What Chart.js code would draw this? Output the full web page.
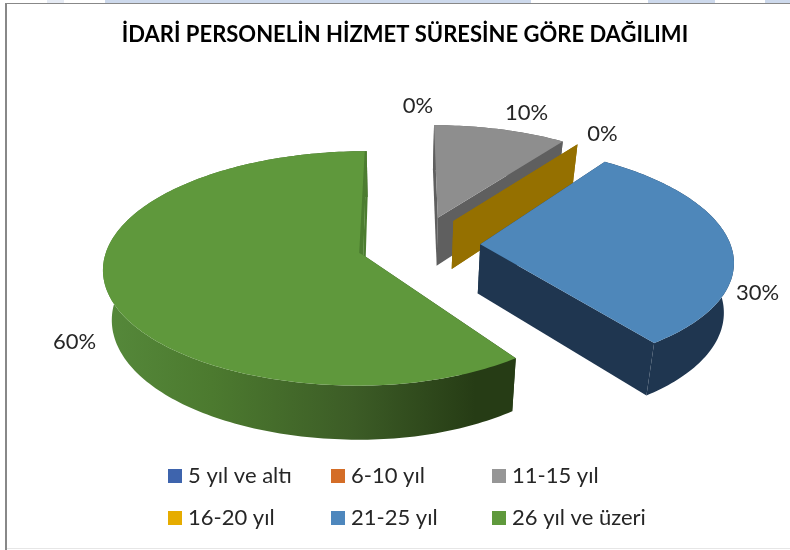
<!DOCTYPE html>
<html>
<head>
<meta charset="utf-8">
<script src="https://cdn.jsdelivr.net/npm/chart.js@4"></script>
<style>
    html, body { margin: 0; padding: 0; background: #fff; }
    #wrap { position: relative; width: 790px; height: 550px; overflow: hidden; }
    #chart { position: absolute; left: 0; top: 0; }
    .frame { position: absolute; background: #888; }
    .patch { position: absolute; top: 0; height: 3px; background: #cdd9ec; }
</style>
</head>
<body>
<div id="wrap">
    <canvas id="chart" width="790" height="550"></canvas>
    <div class="patch" style="left:47px;width:17px;background:#e6ebf4"></div>
    <div class="patch" style="left:105px;width:426px"></div>
    <div class="patch" style="left:648px;width:67px"></div>
    <div class="patch" style="left:765px;width:25px"></div>
    <div class="frame" style="left:5px;top:3px;width:785px;height:1px"></div>
    <div class="frame" style="left:5px;top:3px;width:2px;height:547px"></div>
    <div class="frame" style="left:7px;top:548px;width:783px;height:1px;background:#e6e6e6"></div>
</div>
<script>
const titleText = "İDARİ PERSONELİN HİZMET SÜRESİNE GÖRE DAĞILIMI";
const categories = ["5 yıl ve altı", "6-10 yıl", "11-15 yıl", "16-20 yıl", "21-25 yıl", "26 yıl ve üzeri"];
const percentValues = [0, 0, 10, 0, 30, 60];

const swatchColors = ["#3e64ad", "#d46d27", "#969696", "#e6ac00", "#4e87bd", "#5f993c"];
const topColors = ["#3e64ad", "#d46d27", "#8e8e8e", "#957000", "#4e87ba", "#5f983c"];
const sideColors = [null, null, "#5f5f5f", "#957000", "#1f3650", "green"];

// explosion of every slice on the pie plane, in pie radii
const explodeU = [0.16, 0.16, 0.16, 0.222, 0.322, -0.135];
const explodeV = [-0.23, -0.23, -0.23, -0.2, 0.012, 0.106];
// slices far from the viewer come out a little smaller in the original
const rimScale = [1, 1, 0.95, 0.95, 0.98, 1];
const rightScale = [1, 1, 1, 1, 1, 0.935];
const rimShear = [0, 0, 0, 0, 0.02, 0];

// label nudge from the slice rim, null = label hidden under its neighbour
const labelDx = [-16, null, 26, 25, 27, -33];
const labelDy = [-15, null, -16, -10, 49, 50];

// perspective of the pie plane
const view = { x: 398, y: 243, scaleX: 255, scaleY: 113, persp: 0.112, depth: 49, bottomX: 0.97, bottomY: 117 };

const project = (u, v, bottom) => {
    const w = 1 - view.persp * v;
    if (bottom) {
        return { x: view.x + view.scaleX * view.bottomX * u / w, y: view.y + view.depth + view.bottomY * v / w };
    }
    return { x: view.x + view.scaleX * u / w, y: view.y + view.scaleY * v / w };
};

const rimPoint = (i, a, bottom) => {
    const cos = Math.cos(a) * rimScale[i] * (Math.cos(a) > 0 ? rightScale[i] : 1);
    const sin = Math.sin(a) * rimScale[i];
    return project(explodeU[i] + cos + rimShear[i] * sin, explodeV[i] + sin, bottom);
};

const rimPoints = (i, start, end, bottom) => {
    const points = [];
    const steps = Math.max(1, Math.ceil((end - start) / 0.02));
    for (let s = 0; s <= steps; s++) {
        points.push(rimPoint(i, start + (end - start) * s / steps, bottom));
    }
    return points;
};

const fillPolygon = (ctx, points, fill) => {
    ctx.beginPath();
    points.forEach((p, n) => n ? ctx.lineTo(p.x, p.y) : ctx.moveTo(p.x, p.y));
    ctx.closePath();
    ctx.fillStyle = fill;
    ctx.fill();
};

const greenWall = (ctx) => {
    const g = ctx.createLinearGradient(110, 0, 516, 0);
    g.addColorStop(0, "#55883a");
    g.addColorStop(0.25, "#4c7a2f");
    g.addColorStop(0.6, "#3c5c26");
    g.addColorStop(0.9, "#263c15");
    g.addColorStop(1, "#263c15");
    return g;
};

const pie3d = {
    id: 'pie3d',
    beforeDatasetsDraw(chart) {
        const ctx = chart.ctx;
        const arcs = chart.getDatasetMeta(0).data;
        arcs.forEach((arc, i) => {
            if (!sideColors[i])
                return;

            const isGreen = sideColors[i] === "green";
            const side = isGreen ? greenWall(ctx) : sideColors[i];
            const apexTop = project(explodeU[i], explodeV[i], false);
            const apexBottom = project(explodeU[i], explodeV[i], true);
            const top = rimPoints(i, arc.startAngle, arc.endAngle, false);
            const bottom = rimPoints(i, arc.startAngle, arc.endAngle, true);

            fillPolygon(ctx, [...top, ...[...bottom].reverse()], side);
            fillPolygon(ctx, [apexTop, top[0], bottom[0], apexBottom], side);
            fillPolygon(ctx, [apexTop, top[top.length - 1], bottom[bottom.length - 1], apexBottom], isGreen ? "#4c7d30" : side);
            fillPolygon(ctx, [apexTop, ...top], arc.options.backgroundColor);

            if (isGreen) {
                const rim = top[top.length - 1];
                fillPolygon(ctx, [apexTop, rim, { x: rim.x - 2, y: rim.y }, { x: apexTop.x - 4, y: apexTop.y - 2 }], "#4c7d30");
            }
        });
        return false;
    },
    afterDraw(chart) {
        const ctx = chart.ctx;
        const arcs = chart.getDatasetMeta(0).data;

        ctx.save();
        ctx.font = "22px Lato";
        ctx.fillStyle = "#262626";
        ctx.textAlign = "center";
        ctx.textBaseline = "middle";
        arcs.forEach((arc, i) => {
            if (labelDx[i] === null)
                return;
            const mid = (arc.startAngle + arc.endAngle) / 2;
            const p = rimPoint(i, mid, false);
            ctx.fillText(percentValues[i] + "%", p.x + labelDx[i], p.y + labelDy[i]);
        });

        ctx.textAlign = "left";
        categories.forEach((name, i) => {
            const col = i % 3;
            const row = Math.floor(i / 3);
            const x = 168 + [0, 163, 324][col];
            const y = 476 + row * 42;
            ctx.fillStyle = swatchColors[i];
            ctx.fillRect(x, y - 7, 14, 14);
            ctx.fillStyle = "#262626";
            ctx.fillText(name, x + 20, y);
        });
        ctx.restore();
    }
};

new Chart(document.getElementById("chart"), {
    type: 'pie',
    data: {
        labels: categories,
        datasets: [
            {
                data: percentValues,
                backgroundColor: topColors,
                borderWidth: 0
            }
        ]
    },
    options: {
        responsive: false,
        animation: false,
        layout: {
            padding: { left: 20, top: 22 }
        },
        plugins: {
            legend: {
                display: false
            },
            tooltip: {
                enabled: false
            },
            title: {
                display: true,
                text: titleText,
                color: "#000",
                font: { family: "Lato", size: 22, weight: "bold" },
                padding: { top: 0, bottom: 0 }
            }
        }
    },
    plugins: [pie3d]
});
</script>
</body>
</html>
